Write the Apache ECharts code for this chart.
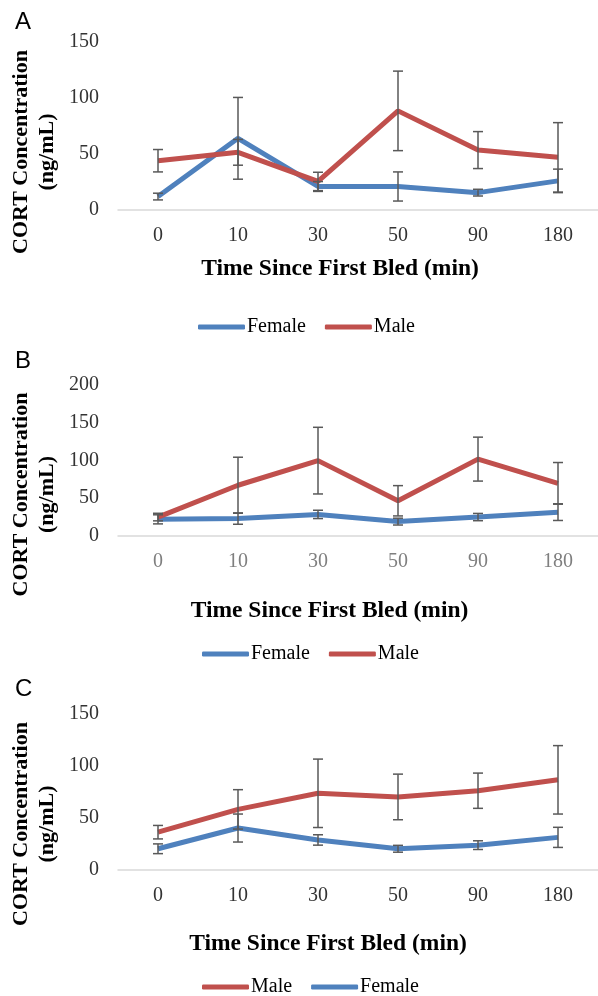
<!DOCTYPE html>
<html>
<head>
<meta charset="utf-8">
<script src="https://cdn.jsdelivr.net/npm/echarts@6/dist/echarts.min.js"></script>
<style>
  html, body { margin: 0; padding: 0; background: #fff; }
  #main { width: 598px; height: 996px; }
</style>
</head>
<body>
<div id="main"></div>
<script>
// 时间点 (min)
var categories = ['0', '10', '30', '50', '90', '180'];

// panel A
var femaleA = [12, 64, 21, 21, 15.5, 26];
var femaleErrA = [3, 36.5, 4.4, 13, 3, 10.5];
var maleA = [44, 51.5, 25.5, 88.5, 53.5, 47];
var maleErrA = [10, 11.5, 8.2, 35.5, 16.5, 31];

// panel B
var femaleB = [22, 23, 28.5, 19, 25, 31.5];
var femaleErrB = [6, 7.5, 5.5, 4.5, 4.8, 11];
var maleB = [25, 67, 99.5, 46.5, 101.5, 69.5];
var maleErrB = [5, 37, 44, 20, 29, 27.5];

// panel C
var maleC = [36, 58, 73.5, 70, 76, 86.5];
var maleErrC = [6.5, 19, 33, 22, 17, 33];
var femaleC = [20, 40, 28.5, 20, 23.5, 31];
var femaleErrC = [4.7, 13.5, 5, 3.3, 4.2, 9.7];

// y axis max per panel
var yMax = [150, 200, 150];

var BLUE = '#4f81bd';
var RED = '#c0504d';
var SERIF = '"Liberation Serif", "Times New Roman", serif';

var myChart = echarts.init(document.getElementById('main'));

// mean ± err -> [index, low, high]
function errData(mean, err) {
  return mean.map(function (v, i) {
    return [i, v - err[i], v + err[i]];
  });
}

function renderErr(params, api) {
  var lo = api.coord([api.value(0), api.value(1)]);
  var hi = api.coord([api.value(0), api.value(2)]);
  var hw = 5;
  var st = { stroke: '#595959', lineWidth: 1.5 };
  return {
    type: 'group',
    children: [
      { type: 'line', shape: { x1: hi[0], y1: hi[1], x2: lo[0], y2: lo[1] }, style: st },
      { type: 'line', shape: { x1: hi[0] - hw, y1: hi[1], x2: hi[0] + hw, y2: hi[1] }, style: st },
      { type: 'line', shape: { x1: lo[0] - hw, y1: lo[1], x2: lo[0] + hw, y2: lo[1] }, style: st }
    ]
  };
}

function lineSeries(name, data, color, idx) {
  return {
    name: name,
    type: 'line',
    xAxisIndex: idx,
    yAxisIndex: idx,
    data: data,
    symbol: 'none',
    color: color,
    lineStyle: { width: 5, color: color },
    z: 2
  };
}

function errSeries(id, mean, err, idx) {
  return {
    name: id,
    type: 'custom',
    xAxisIndex: idx,
    yAxisIndex: idx,
    data: errData(mean, err),
    renderItem: renderErr,
    encode: { x: 0, y: [1, 2] },
    z: 3
  };
}

var grids = [
  { left: 118, right: 0, top: 42, height: 168 },
  { left: 118, right: -7, top: 384.5, height: 151.5 },
  { left: 118, right: -7, top: 714, height: 155.5 }
];

var xLabelColor = ['#333', '#7f7f7f', '#333'];

var xAxes = grids.map(function (g, i) {
  return {
    type: 'category',
    gridIndex: i,
    data: categories,
    boundaryGap: true,
    axisTick: { show: false },
    axisLine: { lineStyle: { color: '#d9d9d9', width: 1.5 } },
    axisLabel: { color: xLabelColor[i], fontFamily: SERIF, fontSize: 20, margin: 16 },
    splitLine: { show: false }
  };
});

var yAxes = grids.map(function (g, i) {
  return {
    type: 'value',
    gridIndex: i,
    min: 0,
    max: yMax[i],
    interval: 50,
    axisLine: { show: false },
    axisTick: { show: false },
    splitLine: { show: false },
    axisLabel: { color: '#333', fontFamily: SERIF, fontSize: 20, margin: 19 }
  };
});

function legendAt(left, top, names) {
  return {
    left: left,
    top: top,
    data: names,
    icon: 'roundRect',
    itemWidth: 47,
    itemHeight: 5,
    itemGap: 19,
    selectedMode: false,
    textStyle: { fontFamily: SERIF, fontSize: 20, color: '#000', lineHeight: 20, padding: [0, 0, 0, -3] }
  };
}

// 标题 / 面板字母
function yTitle(cy) {
  return {
    type: 'text',
    x: 34,
    y: cy,
    rotation: Math.PI / 2,
    style: {
      text: 'CORT Concentration\n(ng/mL)',
      font: 'bold 22px ' + SERIF,
      fill: '#000',
      align: 'center',
      verticalAlign: 'middle',
      lineHeight: 26
    }
  };
}

function xTitle(cx, cy) {
  return {
    type: 'text',
    x: cx,
    y: cy,
    style: {
      text: 'Time Since First Bled (min)',
      font: 'bold 23.5px ' + SERIF,
      fill: '#000',
      align: 'center',
      verticalAlign: 'middle'
    }
  };
}

function letter(t, cy) {
  return {
    type: 'text',
    x: 15,
    y: cy,
    style: {
      text: t,
      font: '24px "Liberation Sans", Arial, sans-serif',
      fill: '#000',
      align: 'left',
      verticalAlign: 'middle'
    }
  };
}

var option = {
  animation: false,
  backgroundColor: '#fff',
  grid: grids,
  xAxis: xAxes,
  yAxis: yAxes,
  legend: [
    legendAt(193, 312, ['Female', 'Male']),
    legendAt(197, 639, ['Female', 'Male']),
    legendAt(197, 972, ['Male', 'Female'])
  ],
  graphic: [
    letter('A', 22),
    letter('B', 361),
    letter('C', 689),
    yTitle(152),
    yTitle(494.5),
    yTitle(824),
    xTitle(340, 268.5),
    xTitle(329.5, 610.5),
    xTitle(328, 944)
  ],
  series: [
    lineSeries('Female', femaleA, BLUE, 0),
    lineSeries('Male', maleA, RED, 0),
    errSeries('errFemaleA', femaleA, femaleErrA, 0),
    errSeries('errMaleA', maleA, maleErrA, 0),

    lineSeries('Female', femaleB, BLUE, 1),
    lineSeries('Male', maleB, RED, 1),
    errSeries('errFemaleB', femaleB, femaleErrB, 1),
    errSeries('errMaleB', maleB, maleErrB, 1),

    lineSeries('Male', maleC, RED, 2),
    lineSeries('Female', femaleC, BLUE, 2),
    errSeries('errMaleC', maleC, maleErrC, 2),
    errSeries('errFemaleC', femaleC, femaleErrC, 2)
  ]
};

myChart.setOption(option);
</script>
</body>
</html>
